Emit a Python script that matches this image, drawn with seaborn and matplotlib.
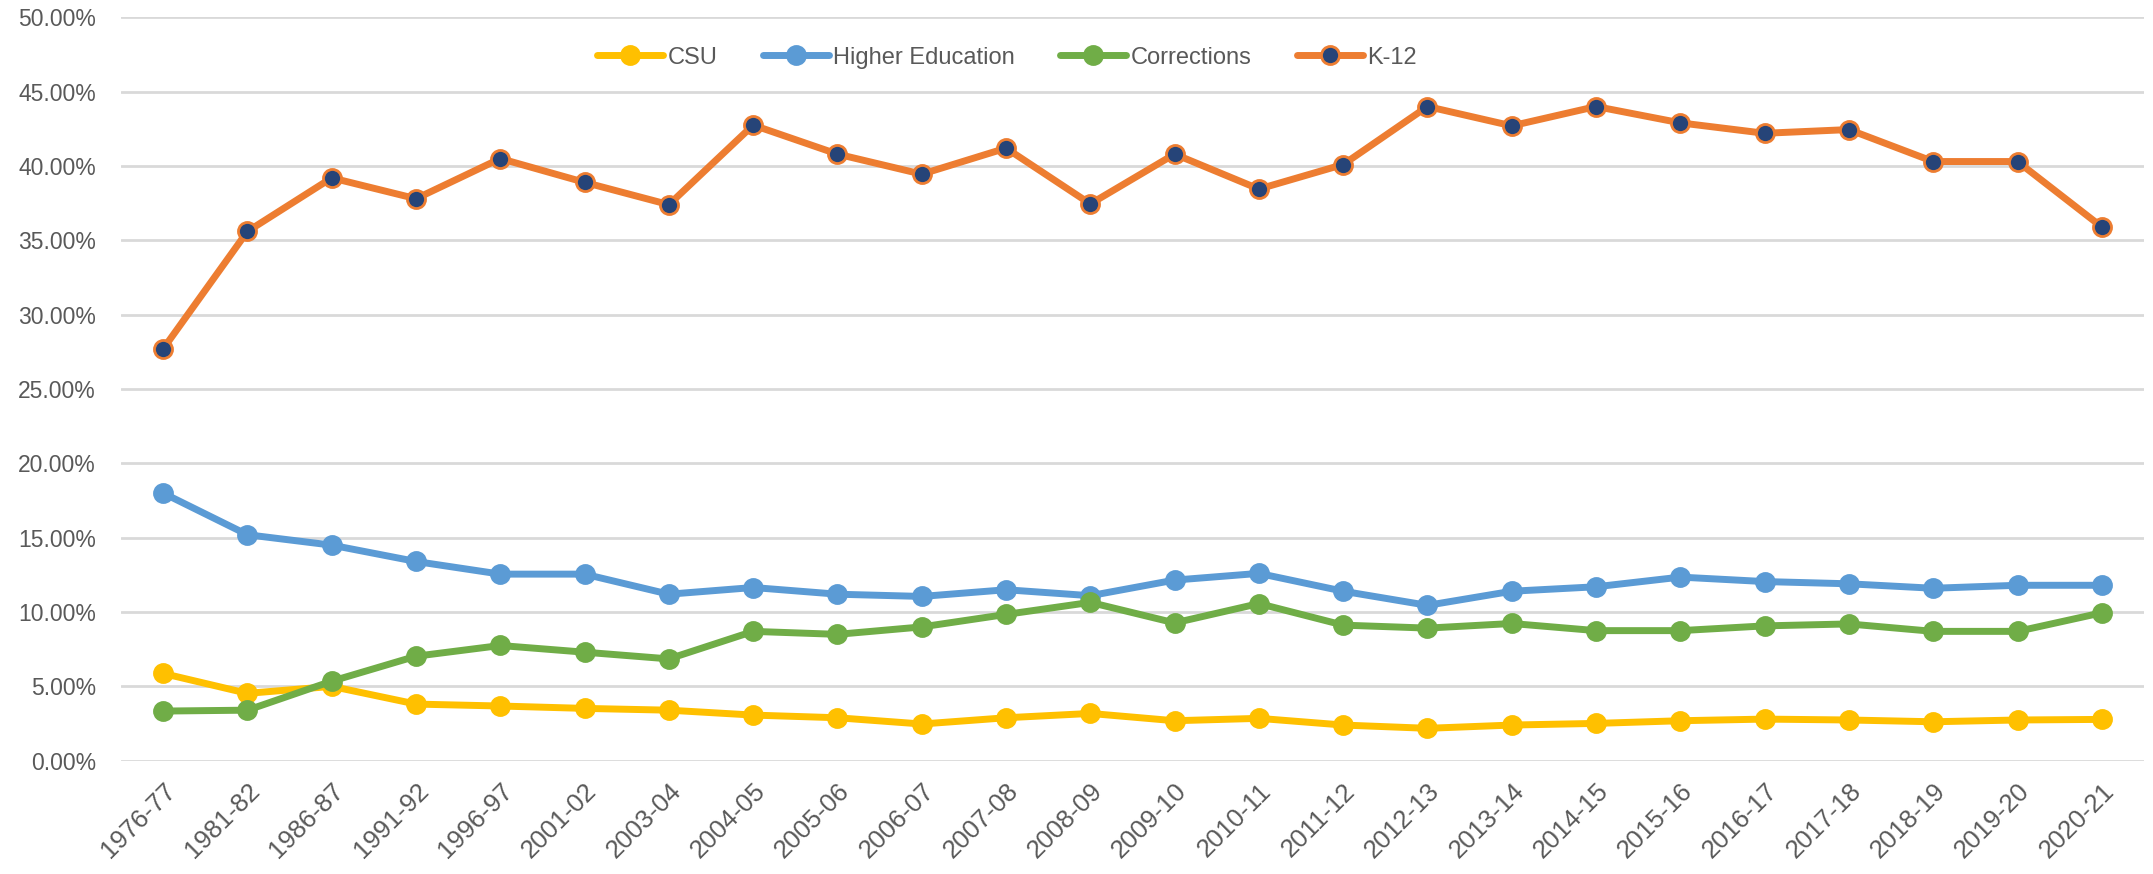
import matplotlib
matplotlib.use("Agg")
import matplotlib.pyplot as plt
import seaborn as sns
import pandas as pd
from matplotlib.ticker import PercentFormatter

# ---------------------------
# Data (share of budget, %)
# ---------------------------
years = ["1976-77", "1981-82", "1986-87", "1991-92", "1996-97", "2001-02", "2003-04",
         "2004-05", "2005-06", "2006-07", "2007-08", "2008-09", "2009-10", "2010-11",
         "2011-12", "2012-13", "2013-14", "2014-15", "2015-16", "2016-17", "2017-18",
         "2018-19", "2019-20", "2020-21"]

csu = [5.87, 4.53, 5.00, 3.81, 3.68, 3.52, 3.40, 3.07, 2.89, 2.47, 2.89, 3.18,
       2.69, 2.85, 2.40, 2.18, 2.40, 2.51, 2.69, 2.80, 2.74, 2.62, 2.74, 2.78]
higher_ed = [18.0, 15.2, 14.5, 13.4, 12.55, 12.55, 11.2, 11.65, 11.2, 11.05, 11.5, 11.1,
             12.15, 12.6, 11.4, 10.45, 11.4, 11.7, 12.35, 12.05, 11.9, 11.6, 11.8, 11.8]
corrections = [3.34, 3.40, 5.35, 7.03, 7.75, 7.30, 6.85, 8.70, 8.50, 9.00, 9.84, 10.65,
               9.27, 10.57, 9.12, 8.92, 9.23, 8.75, 8.75, 9.07, 9.20, 8.70, 8.70, 9.95]
k12 = [27.7, 35.6, 39.2, 37.8, 40.5, 38.9, 37.4, 42.75, 40.8, 39.45, 41.2, 37.45,
       40.8, 38.45, 40.1, 44.0, 42.7, 44.0, 42.9, 42.2, 42.45, 40.3, 40.3, 35.9]

series = [
    ("CSU", csu, "#FFC000", "#FFC000"),
    ("Higher Education", higher_ed, "#5B9BD5", "#5B9BD5"),
    ("Corrections", corrections, "#70AD47", "#70AD47"),
    ("K-12", k12, "#ED7D31", "#264478"),
]

# ---------------------------
# Plot
# ---------------------------
sns.set_style("white")
plt.rcParams["font.family"] = ["Liberation Sans", "DejaVu Sans"]

fig = plt.figure(figsize=(21.53, 8.74), dpi=100)
ax = fig.add_axes([0.0562, 0.1296, 0.9396, 0.8506])

for name, vals, color, face in series:
    df = pd.DataFrame({"year": years, "value": vals})
    sns.lineplot(data=df, x="year", y="value", ax=ax, color=color, linewidth=5,
                 marker="o", markersize=13, markerfacecolor=face,
                 markeredgecolor=color, markeredgewidth=2, label=name, sort=False)

ax.set_xlim(-0.5, len(years) - 0.5)
ax.set_ylim(0, 50)
ax.set_yticks(range(0, 51, 5))
ax.yaxis.set_major_formatter(PercentFormatter(decimals=2))
ax.grid(axis="y", color="#D9D9D9", linewidth=2)
ax.grid(axis="x", visible=False)
ax.set_axisbelow(True)
for s in ax.spines.values():
    s.set_visible(False)
ax.set_xlabel("")
ax.set_ylabel("")

ax.tick_params(axis="y", length=0, pad=18, labelsize=16.5, labelcolor="#595959")
ax.tick_params(axis="x", length=0, pad=13, labelsize=18.5, labelcolor="#595959")
plt.setp(ax.get_xticklabels(), rotation=45, ha="right", rotation_mode="anchor")

ax.legend(loc="center", bbox_to_anchor=(0.438, 0.9457), ncol=4, frameon=False,
          fontsize=17, labelcolor="#595959", handlelength=2.8,
          handletextpad=0.2, columnspacing=1.9)

fig.savefig("out.png", dpi=100)
